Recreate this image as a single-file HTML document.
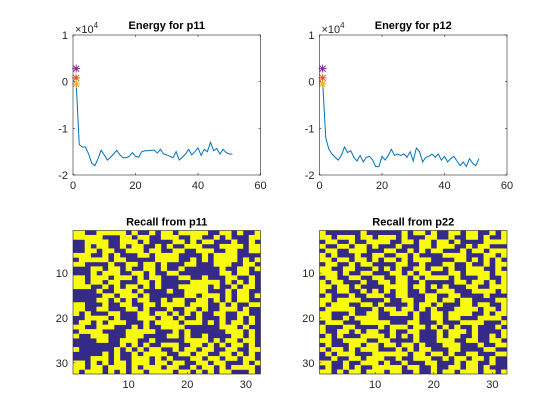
<!DOCTYPE html>
<html><head><meta charset="utf-8"><style>
html,body{margin:0;padding:0;background:#fff;}
svg{display:block;font-family:"Liberation Sans",Arial,sans-serif;}
</style></head><body>
<svg id="fig" width="560" height="420" viewBox="0 0 560 420" xmlns="http://www.w3.org/2000/svg"></svg>
<script>
const energyP11 = [0,-1.35,-1.4,-1.4,-1.55,-1.75,-1.8,-1.65,-1.47,-1.57,-1.68,-1.62,-1.55,-1.47,-1.57,-1.63,-1.63,-1.6,-1.52,-1.6,-1.62,-1.5,-1.48,-1.48,-1.47,-1.47,-1.53,-1.45,-1.55,-1.57,-1.6,-1.63,-1.5,-1.68,-1.62,-1.55,-1.45,-1.57,-1.5,-1.42,-1.58,-1.45,-1.5,-1.3,-1.48,-1.43,-1.55,-1.45,-1.52,-1.55,-1.55];
const energyP12 = [0,-1.2,-1.45,-1.55,-1.62,-1.68,-1.58,-1.4,-1.52,-1.48,-1.62,-1.7,-1.58,-1.72,-1.62,-1.6,-1.68,-1.82,-1.82,-1.6,-1.68,-1.58,-1.45,-1.58,-1.55,-1.58,-1.55,-1.62,-1.5,-1.7,-1.42,-1.5,-1.72,-1.62,-1.6,-1.55,-1.62,-1.55,-1.68,-1.6,-1.72,-1.65,-1.6,-1.7,-1.8,-1.72,-1.82,-1.65,-1.75,-1.8,-1.65];
const markerValues = [0.28, 0.08, -0.05];
const markerColors = ["#7E2F8E","#D95319","#EDB120"];
const lineXTicks = [0,20,40,60];
const lineYTicks = [-2,-1,0,1];
const imgTicks = [10,20,30];
const recallP11 = [
"11001111101001011011111001101001","11111000110110011100110010100011","00111100111010000110101100010010","00101100101100101001110001111011",
"00110110011101100110011100110011","11100101000110111100001011110000","01111101100000111100101011110101","11000010011011010001100011100110",
"00011011010011010010000001001101","00010111001101001100000001101100","11011101110101100011001000110010","11011011000110100000111110101010",
"11100101011010100011111010010110","00001001110100001001111000101100","00000110111010000001101110101101","00001101010110010110011010101100",
"11000100110011011110111001010011","11001100011010001001101001110100","10100011000110110101010011001100","00111101000111011010010001001010",
"01101011100010111101110101011010","11001110001010011110000001110100","01111000011111000101000000111010","10011100011100001101001000011010",
"00001100111001000001111010110110","00000000101010011100110101011010","10000001010101100101101100110011","00000101001011110011011001101010",
"00011101001110101000110110110110","11010101101110110110011011000101","11011011101011101100101101011110","10111010101101111011010101100010"];
const recallP22 = [
"10000001000000101101001101100101","11011101101110100011001001101001","01100100111100110110110100001111","10011011010001000110111001011000",
"01100111000110010101100010110111","10100010011001101000011110001101","11011011010110101110000110101010","01100101100001100100011001001011",
"11001100010101001101101001110010","11101001100011010110001101111011","01100110011001101011110100011001","10110001001101100100000110110101",
"11011010000111101101010001100111","10011001010101100100111000111101","01000100111001100011001100001000","11011110000100110011011011000011",
"10111001101000010110100011011001","01111100010110110101000111101101","11000100110011101001101111001011","11001011110000001001101100011110",
"01110001111100011000100011110001","10001100001011101101010100100010","10011010110010011000101110100001","01010001111010101000101100100101",
"11001111001100001000111001100110","01000110110110110100011100010011","10110101110001010110001100001100","01011100011111101101101001100011",
"00100110111001001110010110110100","11001001110100100011000101100100","01001010011111011001001101101000","11010110111011001001011011101101"];

const svg = document.getElementById('fig');
const NS = 'http://www.w3.org/2000/svg';
function mk(tag, attrs, parent){ const e=document.createElementNS(NS,tag); for(const k in attrs) e.setAttribute(k,attrs[k]); (parent||svg).appendChild(e); return e; }

function linePlot(L,T,W,H,data,title,key){
  const g = mk('g',{});
  
  
  const sx = v => L + (v-0)/60*W;
  const sy = v => T + (1-v)/3*H;
  mk('rect',{x:L,y:T,width:W,height:H,fill:'#fff'},g);
  let d='';
  data.forEach((v,i)=>{ d += (i?'L':'M')+sx(i+1).toFixed(2)+','+sy(v).toFixed(2); });
  const p = mk('path',{d:d,fill:'none',stroke:'#0072BD','stroke-width':1},g);
  
  
  markerValues.forEach((v,i)=>{
    const cx=sx(1), cy=sy(v), r=4;
    const m = mk('g',{stroke:markerColors[i],'stroke-width':1},g);
    
    
    mk('line',{x1:cx-r,y1:cy,x2:cx+r,y2:cy},m);
    mk('line',{x1:cx,y1:cy-r,x2:cx,y2:cy+r},m);
    mk('line',{x1:cx-3,y1:cy-3,x2:cx+3,y2:cy+3},m);
    mk('line',{x1:cx-3,y1:cy+3,x2:cx+3,y2:cy-3},m);
  });
  mk('rect',{x:L,y:T,width:W,height:H,fill:'none',stroke:'#262626','stroke-width':0.6},g);
  lineXTicks.forEach(t=>{
    const x=sx(t);
    mk('line',{x1:x,y1:T+H,x2:x,y2:T+H-2,stroke:'#262626','stroke-width':0.6},g);
    mk('line',{x1:x,y1:T,x2:x,y2:T+2,stroke:'#262626','stroke-width':0.6},g);
    const tx=mk('text',{x:x,y:T+H+14,'text-anchor':'middle','font-size':11,fill:'#262626'},g);
    tx.textContent=t;
    
    
  });
  lineYTicks.forEach(t=>{
    const y=sy(t);
    mk('line',{x1:L,y1:y,x2:L+2,y2:y,stroke:'#262626','stroke-width':0.6},g);
    mk('line',{x1:L+W,y1:y,x2:L+W-2,y2:y,stroke:'#262626','stroke-width':0.6},g);
    const tx=mk('text',{x:L-5,y:y+4,'text-anchor':'end','font-size':11,fill:'#262626'},g);
    tx.textContent=t;
    
    
  });
  const ex=mk('text',{x:L+2,y:T-2,'font-size':11,fill:'#262626'},g);
  ex.innerHTML='×10<tspan dy="-5" font-size="8">4</tspan>';
  
  
  const tt=mk('text',{x:L+W/2,y:T-6,'text-anchor':'middle','font-size':11,'font-weight':'bold',fill:'#000'},g);
  tt.textContent=title;
  
  
}

function imgPlot(L,T,W,H,rows,title,key){
  const g = mk('g',{});
  
  
  const n=rows.length, m=32;
  const cw=W/m, ch=H/n;
  mk('rect',{x:L,y:T,width:W,height:H,fill:'#352A87'},g);
  rows.forEach((row,r)=>{
    for(let c=0;c<m;c++){
      if(row.charAt(c)==='1'){
        const cell=mk('rect',{x:(L+c*cw).toFixed(2),y:(T+r*ch).toFixed(2),width:(cw+0.3).toFixed(2),height:(ch+0.3).toFixed(2),fill:'#F9FB0E'},g);
        
        
      }
    }
  });
  mk('rect',{x:L,y:T,width:W,height:H,fill:'none',stroke:'#262626','stroke-width':0.6},g);
  imgTicks.forEach(t=>{
    const x=L+(t-0.5)*cw, y=T+(t-0.5)*ch;
    mk('line',{x1:x,y1:T+H,x2:x,y2:T+H-2,stroke:'#262626','stroke-width':0.6},g);
    mk('line',{x1:L,y1:y,x2:L+2,y2:y,stroke:'#262626','stroke-width':0.6},g);
    const a=mk('text',{x:x,y:T+H+14,'text-anchor':'middle','font-size':11,fill:'#262626'},g);
    a.textContent=t;
    
    
    const b=mk('text',{x:L-5,y:y+4,'text-anchor':'end','font-size':11,fill:'#262626'},g);
    b.textContent=t;
    
    
  });
  const tt=mk('text',{x:L+W/2,y:T-5,'text-anchor':'middle','font-size':11,'font-weight':'bold',fill:'#000'},g);
  tt.textContent=title;
  
  
}

linePlot(73,35,187.5,140,energyP11,'Energy for p11','p11');
linePlot(319.5,35,187.5,140,energyP12,'Energy for p12','p12');
imgPlot(73,230.5,187.5,143.5,recallP11,'Recall from p11','recall-p11');
imgPlot(319.5,230.5,187.5,143.5,recallP22,'Recall from p22','recall-p22');
</script>
</body></html>
